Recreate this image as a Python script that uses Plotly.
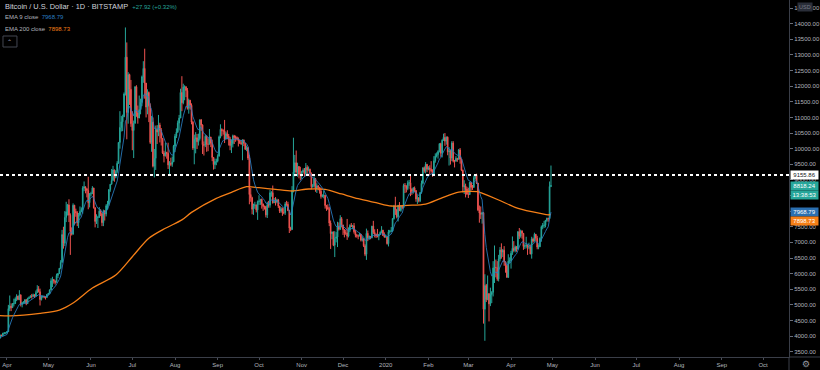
import pandas as pd
import plotly.graph_objects as go

# ---------------- data ----------------
start_date = "2019-03-26"

opens = [
    3925, 3935, 4035, 4015, 4090, 4100,
    4100, 4140, 4880, 4960, 4910, 5030, 5040, 5190, 5280, 5170, 5320, 5020, 5070, 5070, 5160, 5040, 5200, 5230, 5280, 5270, 5320, 5280, 5390, 5500, 5420, 5170, 5250, 5270, 5250, 5240,
    5330, 5370, 5480, 5770, 5810, 5760, 5720, 5940, 6000, 6170, 6360, 7250, 6970, 7800, 7980, 8200, 7870, 7350, 7260, 8190, 7990, 7950, 7630, 7880, 7990, 8050, 8740, 8780, 8720, 8660, 8270,
    8550, 8560, 8740, 8110, 7670, 7790, 7800, 8000, 7920, 7630, 8010, 7910, 8170, 8230, 8690, 8860, 8980, 9320, 9080, 9270, 9530, 10200, 10680, 10860, 11020, 11750, 12930, 11160, 12370, 11900,
    10800, 10580, 10810, 11980, 11150, 10980, 11250, 11480, 12300, 12570, 12100, 11330, 11800, 11370, 10200, 10850, 9440, 9690, 10620, 10530, 10760, 10590, 10330, 9860, 9770, 9880, 9850, 9480, 9530, 9500, 9580,
    10080, 10400, 10530, 10820, 10980, 11800, 11470, 11970, 11980, 11860, 11290, 11550, 11390, 10850, 10020, 10300, 10350, 10220, 10320, 10920, 10760, 10130, 10110, 10400, 10140, 10140, 10370, 10180, 9720, 9490, 9590,
    9600, 9760, 10380, 10620, 10570, 10570, 10310, 10480, 10400, 10310, 10100, 10160, 10410, 10360, 10360, 10310, 10260, 10190, 10160, 10280, 10170, 9980, 10030, 9700, 8530, 8430, 8060, 8190, 8200, 8040,
    8300, 8320, 8380, 8230, 8150, 8150, 7880, 8210, 8190, 8590, 8590, 8270, 8300, 8290, 8360, 8160, 8000, 8080, 7950, 7950, 8230, 8220, 8020, 7460, 7410, 8660, 9250, 9550, 9250, 9430, 9180,
    9150, 9250, 9310, 9190, 9400, 9310, 9340, 9200, 8780, 8810, 9040, 8720, 8810, 8760, 8640, 8470, 8490, 8510, 8180, 8120, 8080, 7620, 7280, 7330, 6910, 7130, 7170, 7520, 7420, 7760,
    7560, 7410, 7300, 7300, 7200, 7390, 7540, 7510, 7530, 7340, 7230, 7210, 7200, 7260, 7070, 7110, 6890, 6620, 7290, 7150, 7190, 7150, 7520, 7320, 7260, 7200, 7200, 7250, 7320, 7390, 7220,
    7170, 7180, 6960, 7340, 7360, 7360, 7760, 8160, 8050, 7820, 8190, 8020, 8180, 8110, 8820, 8810, 8720, 8900, 8910, 8700, 8630, 8740, 8660, 8390, 8430, 8330, 8600, 8890, 9390, 9290, 9500,
    9340, 9380, 9340, 9290, 9180, 9610, 9760, 9810, 9910, 10160, 9850, 10270, 10360, 10240, 10370, 9900, 9930, 9700, 10180, 9600, 9600, 9690, 9660, 9960, 9660, 9310, 8780, 8810, 8710,
    8540, 8530, 8920, 8760, 8760, 9070, 9150, 8900, 8040, 7940, 7900, 7950, 4860, 5620, 5170, 5360, 5030, 5330, 5400, 6180, 6200, 6190, 5830, 6470, 6760, 6690, 6750, 6380, 6260, 5880, 6400,
    6410, 6650, 6810, 6740, 6860, 6780, 7340, 7200, 7370, 7290, 6870, 6890, 6920, 6850, 6860, 6630, 7110, 7040, 7260, 7130, 6850, 6860, 7130, 7500, 7540, 7550, 7700, 7770, 7760, 8790.32,
]

highs = [
    3950, 4050, 4040, 4105, 4130, 4110,
    4160, 5000, 5300, 5050, 5060, 5200, 5240, 5340, 5290, 5470, 5330, 5100, 5120, 5180, 5190, 5230, 5270, 5310, 5350, 5360, 5340, 5460, 5630, 5600, 5520, 5300, 5300, 5290, 5270, 5350,
    5380, 5490, 5850, 5900, 5830, 5780, 6000, 6020, 6180, 6430, 7400, 7500, 8000, 8300, 8230, 8380, 7930, 7480, 8250, 8200, 8080, 8000, 7940, 8150, 8120, 8800, 8950, 8790, 8730, 9100, 8580,
    8620, 8800, 8750, 8120, 7900, 7850, 8130, 8060, 7950, 8050, 8030, 8220, 8330, 8700, 8870, 9350, 9450, 9330, 9310, 9600, 10200, 11200, 11050, 11090, 11800, 13880, 13400, 12450, 12400, 12200,
    11200, 10900, 12000, 12030, 11380, 11700, 11600, 12340, 12800, 13200, 12100, 11900, 11830, 11450, 11050, 11000, 9990, 10740, 10750, 11080, 10830, 10660, 10340, 9930, 10190, 9900, 10190, 9600, 9710, 9750, 10120,
    10470, 10650, 10900, 11080, 11920, 12320, 12080, 12030, 12000, 11940, 11600, 11560, 11450, 10880, 10450, 10530, 10470, 10480, 10940, 10950, 10780, 10230, 10440, 10420, 10330, 10630, 10380, 10290, 9730, 9680, 9680,
    9820, 10420, 10780, 10650, 10620, 10920, 10540, 10590, 10470, 10380, 10300, 10450, 10440, 10420, 10390, 10360, 10270, 10280, 10300, 10290, 10180, 10100, 10060, 9800, 8740, 8460, 8240, 8300, 8210, 8340,
    8510, 8380, 8400, 8240, 8180, 8170, 8300, 8330, 8680, 8640, 8820, 8420, 8450, 8400, 8390, 8170, 8130, 8120, 8100, 8290, 8330, 8300, 8040, 7500, 8800, 10350, 9800, 9940, 9550, 9440, 9420,
    9290, 9370, 9380, 9540, 9470, 9430, 9360, 9240, 8870, 9120, 9060, 8890, 8830, 8770, 8750, 8540, 8660, 8510, 8200, 8220, 8140, 7700, 7350, 7350, 7360, 7330, 7660, 7640, 7870, 7810,
    7560, 7420, 7400, 7750, 7480, 7580, 7620, 7560, 7620, 7390, 7270, 7250, 7300, 7270, 7190, 7140, 6940, 7440, 7380, 7220, 7190, 7530, 7690, 7420, 7280, 7430, 7270, 7350, 7520, 7400, 7320,
    7250, 7190, 7400, 7400, 7490, 7780, 8200, 8460, 8050, 8190, 8290, 8190, 8190, 8880, 8900, 8820, 8980, 9000, 9190, 8730, 8770, 8790, 8670, 8510, 8440, 8600, 8980, 9400, 9430, 9570, 9510,
    9440, 9470, 9600, 9340, 9760, 9850, 9880, 9950, 10170, 10190, 10300, 10480, 10500, 10390, 10390, 10050, 9970, 10240, 10240, 9640, 9760, 9700, 9990, 10020, 9680, 9330, 8990, 8880, 8780,
    8750, 8950, 8920, 8840, 9140, 9170, 9200, 8900, 8180, 8150, 7980, 7970, 5980, 5670, 5940, 5370, 5550, 5440, 6400, 6900, 6450, 6400, 6600, 6850, 6970, 6790, 6880, 6390, 6280, 6620, 6520,
    6730, 7190, 7040, 6900, 6880, 7360, 7460, 7410, 7380, 7300, 6940, 7180, 6920, 6990, 6930, 7180, 7150, 7310, 7260, 7210, 6940, 7160, 7540, 7620, 7690, 7720, 7790, 7790, 8950, 9460,
]

lows = [
    3905, 3925, 3995, 4005, 4055, 4080,
    4085, 4140, 4800, 4800, 4900, 4950, 5030, 5120, 5150, 5150, 4950, 4920, 5040, 5030, 4990, 5030, 5190, 5230, 5200, 5260, 5220, 5260, 5380, 5400, 4980, 5140, 5230, 5210, 5170, 5220,
    5310, 5360, 5470, 5570, 5680, 5650, 5720, 5860, 5990, 6140, 6360, 6800, 6880, 7650, 7860, 7650, 6600, 7220, 7250, 7570, 7820, 7520, 7460, 7830, 7960, 7920, 8640, 8570, 8440, 8060, 8120,
    8480, 8550, 8080, 7480, 7590, 7460, 7790, 7840, 7520, 7520, 7700, 7830, 8050, 8170, 8620, 8850, 8980, 8940, 9050, 9210, 9520, 10000, 10550, 10560, 11010, 11700, 10300, 10800, 11400, 10700,
    9950, 9700, 10810, 11020, 10800, 10980, 11100, 11360, 12110, 11600, 11000, 11100, 10850, 10150, 9900, 9400, 9080, 9320, 10150, 10400, 10200, 10100, 9830, 9560, 9750, 9680, 9350, 9150, 9440, 9420, 9570,
    9890, 10340, 10500, 10580, 10980, 11200, 11420, 11550, 11650, 11250, 11120, 11250, 10780, 9960, 9500, 9850, 9990, 10100, 10260, 10570, 9830, 9780, 10050, 9900, 9920, 10140, 10050, 9600, 9330, 9350, 9470,
    9560, 9750, 10330, 10400, 10450, 10180, 10300, 10300, 10100, 9950, 9860, 10040, 10150, 10220, 10260, 10070, 10150, 10120, 9630, 10080, 9960, 9920, 9640, 8220, 8300, 7900, 7880, 8080, 7960, 7720,
    8200, 8200, 8080, 8010, 8050, 7800, 7780, 8110, 8110, 8460, 8240, 8260, 8180, 8250, 8100, 7940, 7950, 7850, 7900, 7880, 8170, 8000, 7300, 7360, 7400, 8600, 9110, 9200, 9100, 9050, 8990,
    9030, 9230, 9100, 9140, 9170, 9270, 9100, 8700, 8750, 8760, 8620, 8580, 8680, 8560, 8400, 8440, 8410, 8080, 8010, 8040, 7520, 6790, 7100, 6880, 6530, 7000, 6850, 7380, 7400, 7480,
    7240, 7160, 7240, 7080, 7160, 7330, 7500, 7420, 7280, 7160, 7150, 7100, 7200, 7030, 7030, 6850, 6560, 6440, 7040, 7080, 7100, 7130, 7270, 7160, 7140, 7160, 7070, 7250, 7300, 7210, 7150,
    7160, 6930, 6870, 7280, 7340, 7350, 7730, 7880, 7770, 7670, 8000, 7980, 8060, 8100, 8580, 8600, 8670, 8810, 8480, 8520, 8560, 8600, 8300, 8230, 8280, 8290, 8560, 8860, 9230, 9210, 9250,
    9310, 9160, 9240, 9100, 9170, 9550, 9720, 9680, 9880, 9740, 9720, 10250, 10090, 10130, 9790, 9460, 9490, 9600, 9560, 9400, 9580, 9580, 9650, 9520, 9280, 8600, 8550, 8440, 8530,
    8420, 8520, 8660, 8680, 8750, 9010, 8870, 8000, 7630, 7750, 7600, 4400, 3850, 5090, 5150, 4470, 4960, 5060, 5270, 5700, 5880, 5770, 5750, 6390, 6480, 6530, 6250, 6030, 5870, 5860, 6340,
    6160, 6600, 6700, 6680, 6700, 6780, 7110, 7150, 7120, 6760, 6790, 6810, 6600, 6780, 6620, 6480, 6990, 7030, 7050, 6780, 6780, 6850, 7020, 7420, 7460, 7480, 7660, 7660, 7750, 8770,
]

closes = [
    3935, 4035, 4015, 4090, 4100, 4100,
    4140, 4880, 4960, 4910, 5030, 5040, 5190, 5280, 5170, 5320, 5020, 5070, 5070, 5160, 5040, 5200, 5230, 5280, 5270, 5320, 5280, 5390, 5500, 5420, 5170, 5250, 5270, 5250, 5240, 5330,
    5370, 5480, 5770, 5810, 5760, 5720, 5940, 6000, 6170, 6360, 7250, 6970, 7800, 7980, 8200, 7870, 7350, 7260, 8190, 7990, 7950, 7630, 7880, 7990, 8050, 8740, 8780, 8720, 8660, 8270, 8550,
    8560, 8740, 8110, 7670, 7790, 7800, 8000, 7920, 7630, 8010, 7910, 8170, 8230, 8690, 8860, 8980, 9320, 9080, 9270, 9530, 10200, 10680, 10860, 11020, 11750, 12930, 11160, 12370, 11900, 10800,
    10580, 10810, 11980, 11150, 10980, 11250, 11480, 12300, 12570, 12100, 11330, 11800, 11370, 10200, 10850, 9440, 9690, 10620, 10530, 10760, 10590, 10330, 9860, 9770, 9880, 9850, 9480, 9530, 9500, 9580, 10080,
    10400, 10530, 10820, 10980, 11800, 11470, 11970, 11980, 11860, 11290, 11550, 11390, 10850, 10020, 10300, 10350, 10220, 10320, 10920, 10760, 10130, 10110, 10400, 10140, 10140, 10370, 10180, 9720, 9490, 9590, 9600,
    9760, 10380, 10620, 10570, 10570, 10310, 10480, 10400, 10310, 10100, 10160, 10410, 10360, 10360, 10310, 10260, 10190, 10160, 10280, 10170, 9980, 10030, 9700, 8530, 8430, 8060, 8190, 8200, 8040, 8300,
    8320, 8380, 8230, 8150, 8150, 7880, 8210, 8190, 8590, 8590, 8270, 8300, 8290, 8360, 8160, 8000, 8080, 7950, 7950, 8230, 8220, 8020, 7460, 7410, 8660, 9250, 9550, 9250, 9430, 9180, 9150,
    9250, 9310, 9190, 9400, 9310, 9340, 9200, 8780, 8810, 9040, 8720, 8810, 8760, 8640, 8470, 8490, 8510, 8180, 8120, 8080, 7620, 7280, 7330, 6910, 7130, 7170, 7520, 7420, 7760, 7560,
    7410, 7300, 7300, 7200, 7390, 7540, 7510, 7530, 7340, 7230, 7210, 7200, 7260, 7070, 7110, 6890, 6620, 7290, 7150, 7190, 7150, 7520, 7320, 7260, 7200, 7200, 7250, 7320, 7390, 7220, 7170,
    7180, 6960, 7340, 7360, 7360, 7760, 8160, 8050, 7820, 8190, 8020, 8180, 8110, 8820, 8810, 8720, 8900, 8910, 8700, 8630, 8740, 8660, 8390, 8430, 8330, 8600, 8890, 9390, 9290, 9500, 9340,
    9380, 9340, 9290, 9180, 9610, 9760, 9810, 9910, 10160, 9850, 10270, 10360, 10240, 10370, 9900, 9930, 9700, 10180, 9600, 9600, 9690, 9660, 9960, 9660, 9310, 8780, 8810, 8710, 8540,
    8530, 8920, 8760, 8760, 9070, 9150, 8900, 8040, 7940, 7900, 7950, 4860, 5620, 5170, 5360, 5030, 5330, 5400, 6180, 6200, 6190, 5830, 6470, 6760, 6690, 6750, 6380, 6260, 5880, 6400, 6410,
    6650, 6810, 6740, 6860, 6780, 7340, 7200, 7370, 7290, 6870, 6890, 6920, 6850, 6860, 6630, 7110, 7040, 7260, 7130, 6850, 6860, 7130, 7500, 7540, 7550, 7700, 7770, 7760, 8790.32, 8818.24,
]

# EMA 200
ema200_dates = [
    "2019-03-26", "2019-04-03", "2019-04-25", "2019-05-09", "2019-05-19", "2019-06-02",
    "2019-06-19", "2019-07-01", "2019-07-13", "2019-07-25", "2019-08-06", "2019-08-13",
    "2019-08-31", "2019-09-11", "2019-09-22", "2019-10-01", "2019-10-13", "2019-10-25",
    "2019-11-06", "2019-11-18", "2019-11-30", "2019-12-12", "2019-12-25", "2020-01-05",
    "2020-01-17", "2020-01-30", "2020-02-10", "2020-02-23", "2020-03-08", "2020-03-10",
    "2020-03-23", "2020-04-04", "2020-04-16", "2020-04-28", "2020-04-30",
]
ema200_values = [
    4660, 4648, 4730, 4835, 5060, 5540,
    5956, 6541, 7131, 7451, 7720, 7960,
    8411, 8603, 8782, 8750, 8699, 8645,
    8709, 8699, 8549, 8398, 8270, 8164,
    8187, 8228, 8411, 8612, 8622, 8590,
    8357, 8123, 7982, 7882, 7898.73,
]

hline_price = 9155.86
last_price = 8818.24
ema9_last = 7968.79
ema200_last = 7898.73
change_text = "+27.92 (+0.32%)"
countdown_text = "13:38:53"
title_text = "Bitcoin / U.S. Dollar · 1D · BITSTAMP"

month_ticks = [
    "2019-04-01", "2019-05-01", "2019-06-01", "2019-07-01", "2019-08-01", "2019-09-01",
    "2019-10-01", "2019-11-01", "2019-12-01", "2020-01-01", "2020-02-01", "2020-03-01",
    "2020-04-01", "2020-05-01", "2020-06-01", "2020-07-01", "2020-08-01", "2020-09-01",
    "2020-10-01",
]
month_labels = ["Apr", "May", "Jun", "Jul", "Aug", "Sep", "Oct", "Nov", "Dec", "2020",
                "Feb", "Mar", "Apr", "May", "Jun", "Jul", "Aug", "Sep", "Oct"]
price_ticks = [3500, 4000, 4500, 5000, 5500, 6000, 6500, 7000, 7500, 8000, 8500,
               9000, 9500, 10000, 10500, 11000, 11500, 12000, 12500, 13000, 13500, 14000, 14500]

# ---------------- styling ----------------
UP = "#26a69a"
DOWN = "#ef5350"
BLUE = "#2a7fc4"
ORANGE = "#f57f17"
TXT = "#b2b5be"
FONT = "Liberation Sans, Arial, sans-serif"

dates = pd.date_range(start_date, periods=len(closes), freq="D")

# EMA 9 of the closes (indicator definition)
alpha = 2.0 / (9 + 1)
ema9 = []
e = closes[0]
for c in closes:
    e = alpha * c + (1 - alpha) * e
    ema9.append(e)

fig = go.Figure()
fig.add_trace(go.Candlestick(
    x=dates, open=opens, high=highs, low=lows, close=closes,
    increasing=dict(line=dict(color=UP, width=1), fillcolor=UP),
    decreasing=dict(line=dict(color=DOWN, width=1), fillcolor=DOWN),
    whiskerwidth=0, hoverinfo="skip",
))
fig.add_trace(go.Scatter(
    x=pd.to_datetime(ema200_dates), y=ema200_values, mode="lines",
    line=dict(color=ORANGE, width=1.3, shape="spline", smoothing=0.8), hoverinfo="skip",
))
fig.add_trace(go.Scatter(
    x=dates, y=ema9, mode="lines",
    line=dict(color=BLUE, width=1), hoverinfo="skip", opacity=0.85,
))

fig.add_shape(type="line", xref="paper", x0=0, x1=1, yref="y", y0=hline_price, y1=hline_price,
              line=dict(color="#ffffff", width=2, dash="dot"))
# extensions of the axis lines into the corner
fig.add_shape(type="line", xref="paper", x0=1, x1=1.04, yref="paper", y0=0, y1=0,
              line=dict(color="#3a3e48", width=1))
fig.add_shape(type="line", xref="paper", x0=1, x1=1, yref="paper", y0=0, y1=-0.04,
              line=dict(color="#3a3e48", width=1))
# collapse button box under legend
fig.add_shape(type="rect", xref="paper", yref="paper",
              x0=3 / 791, x1=17 / 791, y0=1 - 47 / 357, y1=1 - 36 / 357,
              line=dict(color="#434651", width=1), fillcolor="#000000")

ann = []
ann.append(dict(xref="paper", yref="paper", x=0, y=1 - 6 / 357, xshift=3, xanchor="left", yanchor="middle",
                text=f"{title_text}&nbsp;&nbsp;<span style='color:{UP};font-size:6px'>{change_text}</span>",
                font=dict(family=FONT, size=7.4, color="#d1d4dc"), showarrow=False))
ann.append(dict(xref="paper", yref="paper", x=0, y=1 - 17 / 357, xshift=3, xanchor="left", yanchor="middle",
                text=f"EMA 9 close&nbsp;&nbsp;<span style='color:{BLUE}'>{ema9_last:.2f}</span>",
                font=dict(family=FONT, size=6, color=TXT), showarrow=False))
ann.append(dict(xref="paper", yref="paper", x=0, y=1 - 29 / 357, xshift=3, xanchor="left", yanchor="middle",
                text=f"EMA 200 close&nbsp;&nbsp;<span style='color:{ORANGE}'>{ema200_last:.2f}</span>",
                font=dict(family=FONT, size=6, color=TXT), showarrow=False))
ann.append(dict(xref="paper", yref="paper", x=10 / 791, y=1 - 41.5 / 357, xanchor="center", yanchor="middle",
                text="⌃", font=dict(family="DejaVu Sans", size=6, color=TXT), showarrow=False))


def tag(value, text, bg, fg, yshift=0):
    return dict(xref="paper", yref="y", x=1, y=value, xshift=1, yshift=yshift,
                xanchor="left", yanchor="middle", text=text, showarrow=False,
                bgcolor=bg, width=27, height=7.5, borderpad=0, align="center",
                font=dict(family=FONT, size=6, color=fg))


ann.append(tag(hline_price, f"{hline_price:.2f}", "#ffffff", "#131722"))
ann.append(tag(last_price, f"{last_price:.2f}", UP, "#ffffff"))
ann.append(tag(last_price, countdown_text, UP, "#ffffff", yshift=-9))
ann.append(tag(ema9_last, f"{ema9_last:.2f}", "#2a6fb0", "#ffffff"))
ann.append(tag(ema200_last, f"{ema200_last:.2f}", ORANGE, "#ffffff", yshift=-6.6))
ann.append(dict(xref="paper", yref="paper", x=1, y=1, xshift=8, yshift=-1.5, xanchor="left", yanchor="top",
                text="USD", bgcolor="#2a2e39", borderpad=1, showarrow=False,
                font=dict(family=FONT, size=5.5, color="#787b86")))
ann.append(dict(xref="paper", yref="paper", x=1, y=0, xshift=17, yshift=-7, xanchor="center", yanchor="middle",
                text="⚙", showarrow=False, font=dict(family="DejaVu Sans", size=9, color="#9598a1")))

fig.update_layout(
    width=820, height=370,
    margin=dict(l=0, r=29, t=0, b=13, pad=0),
    paper_bgcolor="#000000", plot_bgcolor="#000000",
    showlegend=False, hovermode=False,
    font=dict(family=FONT, size=6, color=TXT),
    annotations=ann,
    xaxis=dict(
        type="date", range=["2019-03-26 22:20", "2020-10-19 20:00"],
        rangeslider=dict(visible=False), showgrid=False, zeroline=False,
        tickmode="array", tickvals=month_ticks, ticktext=month_labels,
        ticks="outside", ticklen=2, tickcolor="#4a4e58", tickangle=0,
        showline=True, linecolor="#3a3e48", linewidth=1,
        tickfont=dict(family=FONT, size=6, color=TXT), fixedrange=True,
    ),
    yaxis=dict(
        side="right", range=[3331, 14759], showgrid=False, zeroline=False,
        tickmode="array", tickvals=price_ticks, ticktext=[f"{v:.2f}" for v in price_ticks],
        ticks="outside", ticklen=3, tickcolor="#6a6e78",
        showline=True, linecolor="#3a3e48", linewidth=1,
        tickfont=dict(family=FONT, size=6, color=TXT), fixedrange=True,
    ),
)

fig.write_html(
    "out.html",
    config={"displayModeBar": False},
    post_script="document.body.style.margin='0';document.body.style.background='#000';",
)
